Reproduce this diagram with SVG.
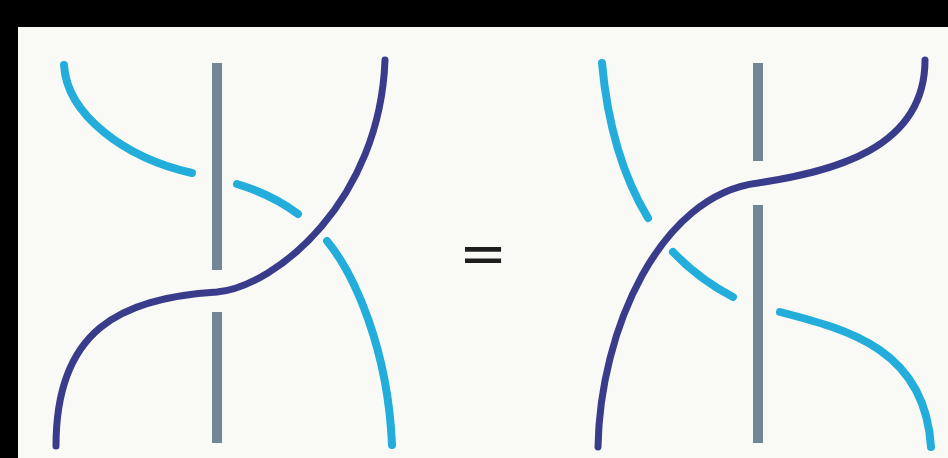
<svg xmlns="http://www.w3.org/2000/svg" width="948" height="458" viewBox="0 0 948 458">
<style>
.lb{fill:none;stroke:#22addb;stroke-width:8;stroke-linecap:round}
.db{fill:none;stroke:#393c8a;stroke-width:7;stroke-linecap:round}
.gb{fill:none;stroke:#6f8796;stroke-width:10;stroke-linecap:butt}
.eq{font-family:"Liberation Sans",Arial,sans-serif;font-size:72px;font-weight:bold;fill:#1e1e1e;text-anchor:middle}
</style>
<rect x="0" y="0" width="948" height="458" fill="#000"/>
<rect x="18" y="27" width="930" height="431" fill="#f9faf6"/>
<g id="left-braid">
  <g id="left-pole"><line class="gb" x1="217" y1="63" x2="217" y2="270"/><line class="gb" x1="217" y1="312" x2="217" y2="443"/></g>
  <g id="left-light-strand">
    <path class="lb" d="M64,65 C67,115 125,158 192,173"/>
    <path class="lb" d="M237,184 C260,191 282,202 298,214"/>
    <path class="lb" d="M327,241 C355,275 388,350 392,445"/>
  </g>
  <g id="left-dark-strand">
    <path class="db" d="M56,446 C56,330 120,298 217,292 C277,286 380,200 385,60"/>
  </g>
</g>
<g id="equals"><text class="eq" x="483" y="0" transform="translate(0,270) scale(1,0.58)">=</text></g>
<g id="right-braid">
  <g id="right-pole"><line class="gb" x1="758" y1="63" x2="758" y2="161"/><line class="gb" x1="758" y1="205" x2="758" y2="443"/></g>
  <g id="right-light-strand">
    <path class="lb" d="M602,63 C608,130 625,180 648,218"/>
    <path class="lb" d="M673,252 C690,270 710,285 733,297"/>
    <path class="lb" d="M780,312 C850,330 925,350 931,447"/>
  </g>
  <g id="right-dark-strand">
    <path class="db" d="M598,447 C600,330 660,195 758,183 C830,172 925,150 925,60"/>
  </g>
</g>
<g id="connectors"></g>
</svg>
